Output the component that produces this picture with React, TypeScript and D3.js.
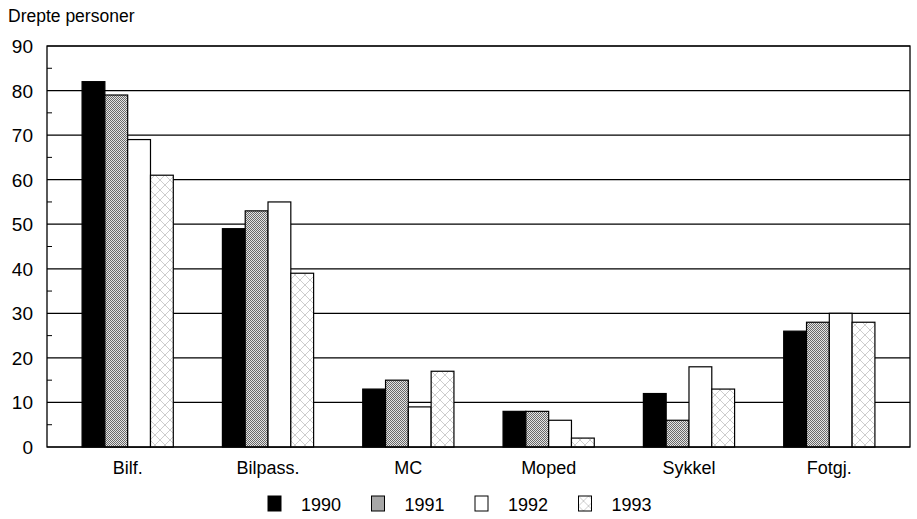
import * as React from 'react';
import * as d3 from 'd3';

const categories = ['Bilf.', 'Bilpass.', 'MC', 'Moped', 'Sykkel', 'Fotgj.'];
const years = ['1990', '1991', '1992', '1993'];
const values1990 = [82, 49, 13, 8, 12, 26];
const values1991 = [79, 53, 15, 8, 6, 28];
const values1992 = [69, 55, 9, 6, 18, 30];
const values1993 = [61, 39, 17, 2, 13, 28];
const yTicks = [0, 10, 20, 30, 40, 50, 60, 70, 80, 90];
const minorTicks = [5, 15, 25, 35, 45, 55, 65, 75, 85];

const series = [values1990, values1991, values1992, values1993];
const fills = ['#000', 'url(#dots)', '#fff', 'url(#hatch)'];
const font = '"Liberation Sans Narrow", "Arial Narrow", "Liberation Sans", Arial, sans-serif';

const W = 917, H = 519;
const left = 47, right = 910, top = 46, bottom = 447;

class ChartView extends React.Component {
  svgRef: React.RefObject<any>;

  constructor(props: {}) {
    super(props);
    this.svgRef = React.createRef();
  }

  componentDidMount() {
    const svg = d3.select(this.svgRef.current);

    const defs = svg.append('defs');
    const dots = defs.append('pattern')
      .attr('id', 'dots').attr('patternUnits', 'userSpaceOnUse')
      .attr('width', 2).attr('height', 2);
    dots.append('rect').attr('width', 2).attr('height', 2).attr('fill', '#e4e4e4');
    dots.append('rect').attr('width', 1).attr('height', 1).attr('fill', '#6a6a6a');
    dots.append('rect').attr('x', 1).attr('y', 1).attr('width', 1).attr('height', 1).attr('fill', '#6a6a6a');

    const hatch = defs.append('pattern')
      .attr('id', 'hatch').attr('patternUnits', 'userSpaceOnUse')
      .attr('width', 10).attr('height', 10);
    hatch.append('rect').attr('width', 10).attr('height', 10).attr('fill', '#fff');
    hatch.append('path').attr('d', 'M0,0L10,10M10,0L0,10')
      .attr('stroke', '#b8b8b8').attr('stroke-width', 0.7).attr('fill', 'none');

    const x = d3.scaleBand()
      .domain(categories)
      .range([left, right])
      .paddingInner(0.35)
      .paddingOuter(0.25);

    const xi = d3.scaleBand()
      .domain(years)
      .range([0, x.bandwidth()]);

    const y = d3.scaleLinear().domain([0, 90]).range([bottom, top]);

    // grid lines
    svg.append('g').selectAll('line')
      .data(yTicks)
      .enter()
      .append('line')
      .attr('x1', left).attr('x2', right)
      .attr('y1', d => y(d)).attr('y2', d => y(d))
      .attr('stroke', '#000').attr('stroke-width', 1.2);

    // minor ticks
    svg.append('g').selectAll('line')
      .data(minorTicks)
      .enter()
      .append('line')
      .attr('x1', left).attr('x2', left + 5)
      .attr('y1', d => y(d)).attr('y2', d => y(d))
      .attr('stroke', '#000').attr('stroke-width', 1);

    // bars
    series.forEach((vals, s) => {
      svg.append('g').selectAll('rect')
        .data(vals)
        .enter()
        .append('rect')
        .attr('x', (_d, i) => (x(categories[i]) || 0) + (xi(years[s]) || 0))
        .attr('y', d => y(d))
        .attr('width', xi.bandwidth())
        .attr('height', d => y(0) - y(d))
        .attr('fill', fills[s])
        .attr('stroke', '#000')
        .attr('stroke-width', 1.2);
    });

    // frame
    svg.append('rect')
      .attr('x', left).attr('y', top)
      .attr('width', right - left).attr('height', bottom - top)
      .attr('fill', 'none').attr('stroke', '#000').attr('stroke-width', 1.3);

    // y labels
    svg.append('g').selectAll('text')
      .data(yTicks)
      .enter()
      .append('text')
      .attr('x', 33)
      .attr('y', d => y(d) + 7)
      .attr('text-anchor', 'end')
      .attr('font-family', font)
      .attr('font-size', 19)
      .text(d => `${d}`);

    // category labels
    svg.append('g').selectAll('text')
      .data(categories)
      .enter()
      .append('text')
      .attr('x', d => (x(d) || 0) + x.bandwidth() / 2)
      .attr('y', 474)
      .attr('text-anchor', 'middle')
      .attr('font-family', font)
      .attr('font-size', 18)
      .text(d => d);

    svg.append('text')
      .attr('x', 8).attr('y', 22)
      .attr('font-family', font)
      .attr('font-size', 17.5)
      .text('Drepte personer');

    // legend
    const legend = svg.append('g').selectAll('g')
      .data(years)
      .enter()
      .append('g')
      .attr('transform', (_d, i) => `translate(${268 + i * 103.5}, 496)`);
    legend.append('rect')
      .attr('width', 13).attr('height', 15)
      .attr('fill', (_d, i) => fills[i])
      .attr('stroke', '#000').attr('stroke-width', 1);
    legend.append('text')
      .attr('x', 33).attr('y', 15)
      .attr('font-family', font)
      .attr('font-size', 18)
      .text(d => d);
  }

  render() {
    return <svg ref={this.svgRef} width={W} height={H} style={{ display: 'block', position: 'absolute', left: 0, top: 0 }} />;
  }
}

export default function App() {
  return <ChartView />;
}
